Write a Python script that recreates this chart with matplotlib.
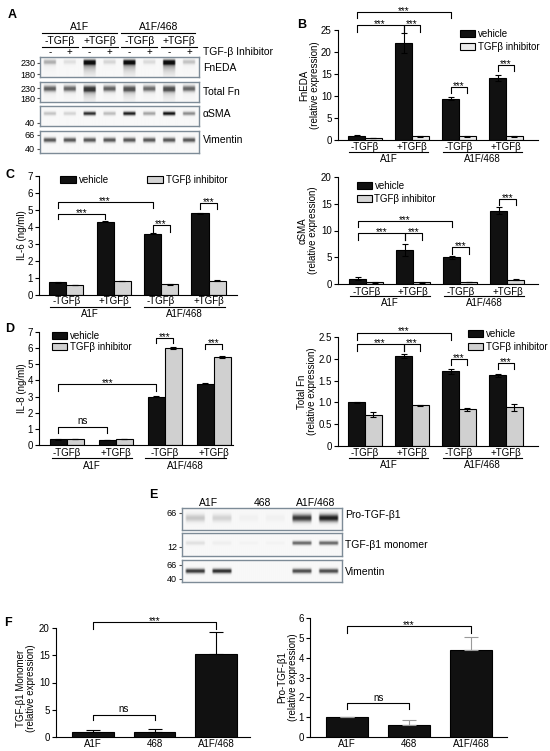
import numpy as np
import matplotlib
matplotlib.use("Agg")
import matplotlib.pyplot as plt
from matplotlib.patches import Patch

plt.rcParams['font.family'] = ['Liberation Sans', 'DejaVu Sans']
plt.rcParams['font.size'] = 7

# ---------------- data ----------------
treat_labels = ['-TGFβ', '+TGFβ', '-TGFβ', '+TGFβ']
cell_groups = ['A1F', 'A1F/468']
legend_labels = ['vehicle', 'TGFβ inhibitor']

fneda_veh = [1.0, 22.0, 9.4, 14.1]
fneda_veh_err = [0.1, 2.3, 0.4, 0.6]
fneda_inh = [0.5, 0.8, 0.8, 0.8]
fneda_inh_err = [0.05, 0.1, 0.1, 0.1]

il6_veh = [0.75, 4.3, 3.6, 4.8]
il6_veh_err = [0.02, 0.03, 0.03, 0.03]
il6_inh = [0.6, 0.82, 0.62, 0.85]
il6_inh_err = [0.01, 0.01, 0.01, 0.01]

il8_veh = [0.35, 0.33, 3.0, 3.8]
il8_veh_err = [0.01, 0.01, 0.03, 0.03]
il8_inh = [0.37, 0.37, 6.0, 5.45]
il8_inh_err = [0.01, 0.01, 0.05, 0.05]

asma_veh = [1.0, 6.3, 5.0, 13.7]
asma_veh_err = [0.3, 1.1, 0.3, 0.6]
asma_inh = [0.3, 0.3, 0.4, 0.8]
asma_inh_err = [0.05, 0.05, 0.05, 0.05]

totfn_veh = [1.0, 2.07, 1.71, 1.62]
totfn_veh_err = [0.01, 0.05, 0.05, 0.03]
totfn_inh = [0.72, 0.93, 0.84, 0.89]
totfn_inh_err = [0.05, 0.01, 0.03, 0.08]
totfn_ticks = [0, 0.5, 1.0, 1.5, 2.0, 2.5]
totfn_ticklabels = ['0', '0.5', '1.0', '1.5', '2.0', '2.5']

f_groups = ['A1F', '468', 'A1F/468']
mono_vals = [1.0, 0.85, 15.2]
mono_err = [0.3, 0.6, 4.0]
pro_vals = [1.0, 0.62, 4.4]
pro_err = [0.0, 0.25, 0.65]

# blot band intensities (0 = none, 1 = black)
blotA_rows = ['FnEDA', 'Total Fn', 'αSMA', 'Vimentin']
fneda_band = [0.30, 0.10, 1.00, 0.14, 1.00, 0.12, 1.00, 0.22]
fneda_smear = [0.25, 0.08, 0.90, 0.10, 0.80, 0.08, 0.90, 0.12]
totfn_band = [0.62, 0.60, 0.80, 0.62, 0.68, 0.58, 0.70, 0.60]
totfn_smear = [0.15, 0.12, 0.75, 0.12, 0.55, 0.12, 0.55, 0.12]
asmab_band = [0.22, 0.15, 0.85, 0.25, 0.92, 0.35, 0.98, 0.45]
vimA_band = [0.68] * 8
inhibitor_marks = ['-', '+', '-', '+', '-', '+', '-', '+']

blotE_rows = ['Pro-TGF-β1', 'TGF-β1 monomer', 'Vimentin']
pro_band = [0.20, 0.15, 0.03, 0.03, 0.80, 0.90]
mono_band = [0.10, 0.04, 0.02, 0.02, 0.60, 0.60]
vimE_band = [0.80, 0.85, 0.0, 0.0, 0.72, 0.72]
blotE_groups = ['A1F', '468', 'A1F/468']

# ---------------- helpers ----------------
W, H = 550, 751
fig = plt.figure(figsize=(W / 100, H / 100), dpi=100)


def px_axes(l, t, r, b):
    return fig.add_axes([l / W, 1 - b / H, (r - l) / W, (b - t) / H])


def style(ax, ylim, yticks, yticklabels=None):
    ax.set_ylim(*ylim)
    ax.set_yticks(yticks)
    if yticklabels is not None:
        ax.set_yticklabels(yticklabels)
    for s in ['top', 'right']:
        ax.spines[s].set_visible(False)
    for s in ['left', 'bottom']:
        ax.spines[s].set_linewidth(0.8)
    ax.tick_params(axis='y', length=3, width=0.8, pad=1.5, labelsize=7)
    ax.set_xticks([])


def grouped(ax, veh, veh_err, inh, inh_err, inh_color, w=0.36):
    x = np.arange(len(veh))
    ekw = dict(ecolor='black', elinewidth=0.8, capsize=2.5, capthick=0.8)
    ax.bar(x - w / 2, veh, w, yerr=veh_err, color='#111111', edgecolor='black', linewidth=0.8, error_kw=ekw)
    ax.bar(x + w / 2, inh, w, yerr=inh_err, color=inh_color, edgecolor='black', linewidth=0.8, error_kw=ekw)


def group_labels(ax, hpx, offs=(7, 12, 19), spans=((-0.35, 1.35), (1.65, 3.35))):
    tr = ax.get_xaxis_transform()
    for i, t in enumerate(treat_labels):
        ax.text(i, -offs[0] / hpx, t, transform=tr, ha='center', va='center', fontsize=7)
    for g, (x0, x1) in zip(cell_groups, spans):
        ax.plot([x0, x1], [-offs[1] / hpx] * 2, transform=tr, clip_on=False, color='black', lw=0.8)
        ax.text((x0 + x1) / 2, -offs[2] / hpx, g, transform=tr, ha='center', va='center', fontsize=7)


def bracket(ax, x0, x1, ytop, yl, yr, label):
    ax.plot([x0, x0, x1, x1], [yl, ytop, ytop, yr], color='black', lw=0.8, clip_on=False)
    dy = 2.0 if label == 'ns' else -1.3
    ax.annotate(label, xy=((x0 + x1) / 2, ytop), xytext=(0, dy), textcoords='offset points',
                ha='center', va='baseline', fontsize=7, annotation_clip=False)


def legend(ax, inh_color, anchor, ncol=1, labelspacing=0.3, columnspacing=2.0, handlelength=1.5):
    handles = [Patch(facecolor='#111111', edgecolor='black', lw=0.8),
               Patch(facecolor=inh_color, edgecolor='black', lw=0.8)]
    ax.legend(handles, legend_labels, loc='upper left', bbox_to_anchor=anchor, frameon=False,
              ncol=ncol, fontsize=7, handlelength=handlelength, handleheight=0.75,
              handletextpad=0.3, labelspacing=labelspacing, columnspacing=columnspacing,
              borderpad=0, borderaxespad=0)


def ylab(ax, text, xpx, lpx, wpx, ypos=0.5, fs=7):
    ax.text((xpx - lpx) / wpx, ypos, text, transform=ax.transAxes, rotation=90,
            ha='center', va='center', fontsize=fs, linespacing=1.1)


def blot(ax, intens, yc, sig, hpx, smear=None, L=5.0, lane_frac=0.68, bg=0.03):
    n = len(intens)
    nx, ny = n * 40, int(hpx * 8)
    xs = (np.arange(nx) + 0.5) / nx * n
    ys = (np.arange(ny) + 0.5) / ny * hpx
    img = np.full((ny, nx), bg)
    for i, I in enumerate(intens):
        dx = np.abs(xs - (i + 0.5))
        hprof = np.clip((lane_frac / 2 - dx) / 0.07, 0, 1)
        d = ys - yc
        v = np.exp(-0.5 * (d / sig) ** 2)
        if smear is not None:
            v = v + np.where(d > 0, smear[i] * np.exp(-d / L), 0)
        img += I * np.outer(np.clip(v, 0, 1), hprof)
    ax.imshow(np.clip(img, 0, 1), extent=(0, n, hpx, 0), cmap='gray_r', vmin=0, vmax=1.05,
              aspect='auto', interpolation='bilinear')
    ax.set_xlim(0, n)
    ax.set_ylim(hpx, 0)
    ax.set_xticks([])
    for s in ax.spines.values():
        s.set_color('#7d8b97')
        s.set_linewidth(1.0)
    ax.tick_params(axis='y', length=2.5, width=0.8, pad=1, labelsize=6.5, color='#555555')


# ---------------- Panel A (blots) ----------------
A_l, A_r = 40, 199
rowsA = [
    (fneda_band, fneda_smear, 57, 77, 4.8, 1.6, 5.0, [6, 17], ['230', '180'], 68),
    (totfn_band, totfn_smear, 82, 102, 6.5, 2.0, 5.0, [6, 16], ['230', '180'], 92),
    (asmab_band, None, 106, 126, 7.5, 1.3, 5.0, [17], ['40'], 114),
    (vimA_band, None, 131, 153, 9.0, 1.6, 5.0, [4, 18], ['66', '40'], 140),
]
for name, (band, sm, t, b, yc, sg, L, tk, tkl, ly) in zip(blotA_rows, rowsA):
    ax = px_axes(A_l, t, A_r, b)
    blot(ax, band, yc, sg, b - t, smear=sm, L=L)
    ax.set_yticks(tk)
    ax.set_yticklabels(tkl)
    fig.text(203 / W, 1 - ly / H, name, ha='left', va='center', fontsize=7.5)

hA = px_axes(A_l, 18, A_r, 57)
hA.set_xlim(0, 8)
hA.set_ylim(57, 18)
hA.axis('off')
for g, x0, x1 in zip(cell_groups, [0.1, 4.1], [3.85, 7.8]):
    hA.text((x0 + x1) / 2, 27.5, g, ha='center', va='center', fontsize=7.5)
    hA.plot([x0, x1], [33, 33], color='black', lw=0.8, clip_on=False)
for i, t in enumerate(treat_labels):
    x0, x1 = 2 * i + 0.1, 2 * i + 1.9
    hA.text(2 * i + 1, 41.5, t, ha='center', va='center', fontsize=7.5)
    hA.plot([x0, x1], [47, 47], color='black', lw=0.8, clip_on=False)
for i, m in enumerate(inhibitor_marks):
    hA.text(i + 0.5, 52, m, ha='center', va='center', fontsize=7)
hA.text(8.18, 52, 'TGF-β Inhibitor', ha='left', va='center', fontsize=7.5)

# ---------------- Panel B ----------------
l, t, r, b = 338, 30, 538, 140
axB = px_axes(l, t, r, b)
grouped(axB, fneda_veh, fneda_veh_err, fneda_inh, fneda_inh_err, '#ebebeb')
axB.set_xlim(-0.574, 3.68)
style(axB, (0, 25), [0, 5, 10, 15, 20, 25])
group_labels(axB, b - t)
legend(axB, '#ebebeb', ((460 - l) / (r - l), (b - 29) / (b - t)))
ylab(axB, 'FnEDA\n(relative expression)', 310, l, r - l)
bracket(axB, -0.18, 1.82, 29, 27.7, 27.7, '***')
bracket(axB, -0.18, 0.82, 26.1, 24.6, 24.6, '***')
bracket(axB, 0.82, 1.18, 26.1, 24.6, 24.6, '***')
bracket(axB, 1.82, 2.18, 12.0, 10.6, 10.6, '***')
bracket(axB, 2.82, 3.18, 17.0, 15.6, 15.6, '***')

# ---------------- Panel C ----------------
l, t, r, b = 39, 176, 237, 295
axC = px_axes(l, t, r, b)
grouped(axC, il6_veh, il6_veh_err, il6_inh, il6_inh_err, '#d4d4d4')
axC.set_xlim(-0.574, 3.6)
style(axC, (0, 7), [0, 1, 2, 3, 4, 5, 6, 7])
group_labels(axC, b - t, offs=(6, 12, 19))
legend(axC, '#d4d4d4', ((60 - l) / (r - l), (b - 175) / (b - t)), ncol=2, columnspacing=4.0,
       handlelength=1.6)
ylab(axC, 'IL-6 (ng/ml)', 22, l, r - l)
bracket(axC, -0.18, 1.82, 5.45, 5.1, 5.1, '***')
bracket(axC, -0.18, 0.82, 4.76, 4.45, 4.45, '***')
bracket(axC, 1.82, 2.18, 4.1, 3.73, 3.73, '***')
bracket(axC, 2.82, 3.18, 5.4, 5.05, 5.05, '***')

# ---------------- Panel D ----------------
l, t, r, b = 39, 332, 233, 445
axD = px_axes(l, t, r, b)
grouped(axD, il8_veh, il8_veh_err, il8_inh, il8_inh_err, '#d0d0d0', w=0.35)
axD.set_xlim(-0.57, 3.39)
style(axD, (0, 7), [0, 1, 2, 3, 4, 5, 6, 7])
group_labels(axD, b - t, offs=(8, 13, 21), spans=((-0.3, 1.33), (1.6, 3.25)))
legend(axD, '#d0d0d0', ((52 - l) / (r - l), (b - 331) / (b - t)), labelspacing=0.1)
ylab(axD, 'IL-8 (ng/ml)', 22, l, r - l)
bracket(axD, -0.175, 0.825, 1.1, 0.73, 0.73, 'ns')
bracket(axD, -0.175, 1.825, 3.77, 3.37, 3.37, '***')
bracket(axD, 1.825, 2.175, 6.62, 6.3, 6.3, '***')
bracket(axD, 2.825, 3.175, 6.27, 5.94, 5.94, '***')

# ---------------- Panel alpha-SMA ----------------
l, t, r, b = 338, 177, 538, 284
axS = px_axes(l, t, r, b)
grouped(axS, asma_veh, asma_veh_err, asma_inh, asma_inh_err, '#d6d6d6')
axS.set_xlim(-0.6, 3.65)
style(axS, (0, 20), [0, 5, 10, 15, 20])
group_labels(axS, b - t, offs=(8, 12, 19))
legend(axS, '#d6d6d6', ((357 - l) / (r - l), (b - 181) / (b - t)))
ylab(axS, 'αSMA\n(relative expression)', 308, l, r - l)
bracket(axS, -0.18, 1.82, 11.8, 10.6, 10.6, '***')
bracket(axS, -0.18, 0.82, 9.5, 8.2, 8.2, '***')
bracket(axS, 0.82, 1.18, 9.5, 8.2, 8.2, '***')
bracket(axS, 1.82, 2.18, 6.85, 5.7, 5.7, '***')
bracket(axS, 2.82, 3.18, 15.8, 14.8, 14.8, '***')

# ---------------- Panel Total Fn ----------------
l, t, r, b = 338, 337, 538, 446
axT = px_axes(l, t, r, b)
grouped(axT, totfn_veh, totfn_veh_err, totfn_inh, totfn_inh_err, '#d0d0d0')
axT.set_xlim(-0.574, 3.68)
style(axT, (0, 2.5), totfn_ticks, totfn_ticklabels)
group_labels(axT, b - t)
legend(axT, '#d0d0d0', ((468 - l) / (r - l), (b - 329) / (b - t)))
ylab(axT, 'Total Fn\n(relative expression)', 307, l, r - l)
bracket(axT, -0.18, 1.82, 2.6, 2.43, 2.43, '***')
bracket(axT, -0.18, 0.82, 2.34, 2.19, 2.19, '***')
bracket(axT, 0.82, 1.18, 2.34, 2.19, 2.19, '***')
bracket(axT, 1.82, 2.18, 1.99, 1.86, 1.86, '***')
bracket(axT, 2.82, 3.18, 1.9, 1.76, 1.76, '***')

# ---------------- Panel E (blots) ----------------
E_l, E_r = 182, 342
rowsE = [
    (pro_band, 508, 530, 10.0, 2.6, [5], ['66'], 515),
    (mono_band, 533, 556, 10.0, 1.4, [14], ['12'], 545),
    (vimE_band, 560, 582, 11.0, 1.6, [5, 19], ['66', '40'], 572),
]
for name, (band, t, b, yc, sg, tk, tkl, ly) in zip(blotE_rows, rowsE):
    ax = px_axes(E_l, t, E_r, b)
    blot(ax, band, yc, sg, b - t, lane_frac=0.78)
    ax.set_yticks(tk)
    ax.set_yticklabels(tkl)
    fig.text(345 / W, 1 - ly / H, name, ha='left', va='center', fontsize=7.5)

hE = px_axes(E_l, 497, E_r, 508)
hE.set_xlim(0, 6)
hE.set_ylim(508, 497)
hE.axis('off')
for i, g in enumerate(blotE_groups):
    hE.text(2 * i + 1, 503, g, ha='center', va='center', fontsize=7.5)

# ---------------- Panel F ----------------
def fbars(ax, vals, err, ecolor):
    x = np.arange(len(vals))
    ax.bar(x, vals, 0.67, yerr=[np.zeros(len(err)), err], color='#111111', edgecolor='black',
           linewidth=0.8, error_kw=dict(ecolor=ecolor, elinewidth=0.8, capsize=5, capthick=0.8))
    tr = ax.get_xaxis_transform()
    hpx = ax.get_position().height * H
    for i, g in enumerate(f_groups):
        ax.text(i, -7 / hpx, g, transform=tr, ha='center', va='center', fontsize=7)


l, t, r, b = 56, 628, 250, 737
axF1 = px_axes(l, t, r, b)
fbars(axF1, mono_vals, mono_err, 'black')
axF1.set_xlim(-0.6, 2.55)
style(axF1, (0, 20), [0, 5, 10, 15, 20])
ylab(axF1, 'TGF-β1 Monomer\n(relative expression)', 26, l, r - l, ypos=0.45)
bracket(axF1, 0, 2, 21.1, 19.9, 19.9, '***')
bracket(axF1, 0, 1, 4.1, 3.1, 3.1, 'ns')

l, t, r, b = 310, 618, 507, 737
axF2 = px_axes(l, t, r, b)
fbars(axF2, pro_vals, pro_err, '#9a9a9a')
axF2.set_xlim(-0.6, 2.58)
style(axF2, (0, 6), [0, 1, 2, 3, 4, 5, 6])
ylab(axF2, 'Pro-TGF-β1\n(relative expression)', 288, l, r - l)
bracket(axF2, 0, 2, 5.59, 5.25, 5.25, '***')
bracket(axF2, 0, 1, 1.69, 1.39, 1.39, 'ns')

# ---------------- panel letters ----------------
for letter, x, y in [('A', 12, 15), ('B', 302, 25), ('C', 10, 175), ('D', 10, 329),
                     ('E', 153, 495), ('F', 8, 623)]:
    fig.text(x / W, 1 - y / H, letter, ha='center', va='center', fontsize=9, fontweight='bold')

fig.savefig('out.png', dpi=100)
